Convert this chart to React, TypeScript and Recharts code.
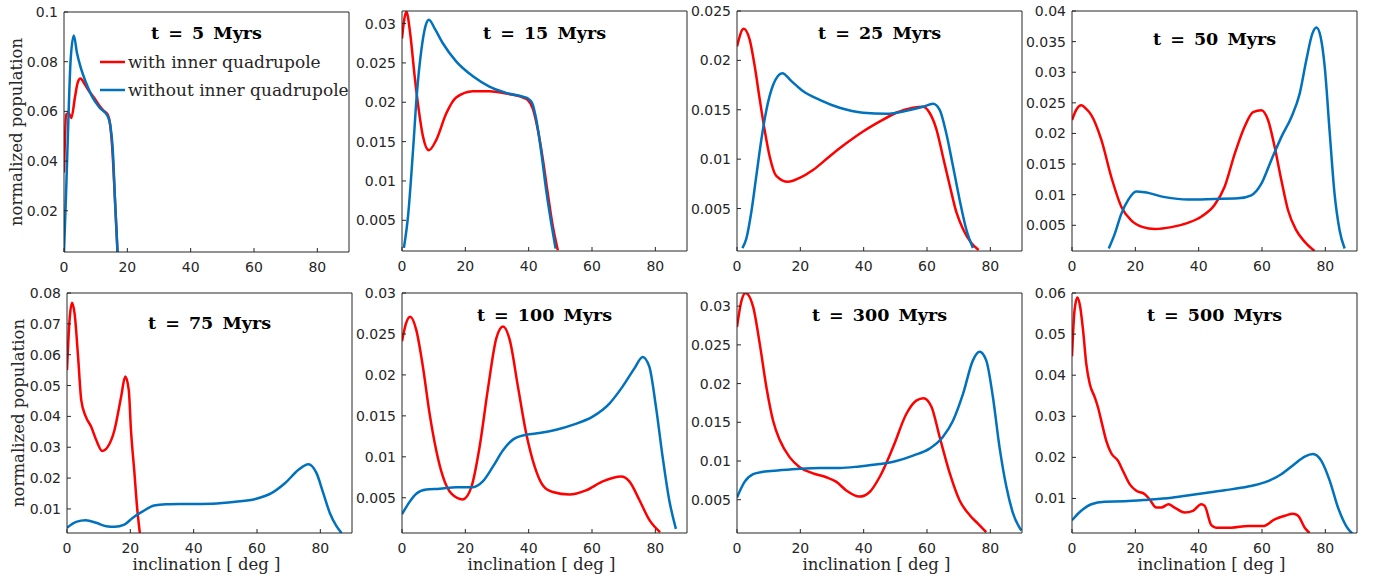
import { LineChart, Line, XAxis, YAxis, Legend } from 'recharts';

// inclination [deg], normalized population
const red5 = [[0, 0.0354], [0.7, 0.0587], [1.5, 0.0593], [2.3, 0.0573], [3.5, 0.066], [4.3, 0.0715], [5.2, 0.0732], [6.5, 0.071], [8, 0.068], [9.5, 0.0655], [11.2, 0.0623], [12.5, 0.0603], [13.8, 0.0587], [14.5, 0.0553], [15.2, 0.046], [16, 0.027], [16.9, 0.0034]];
const blue5 = [[0, 0.0034], [0.6, 0.025], [1.25, 0.0513], [2.1, 0.0808], [3.1, 0.0905], [4.1, 0.0835], [5.2, 0.078], [7, 0.0714], [9.1, 0.0654], [11.2, 0.0616], [13.8, 0.058], [14.6, 0.0546], [15.4, 0.0446], [16.1, 0.0244], [16.9, 0.0034]];

const red15 = [[0, 0.0281], [0.7, 0.0305], [1.4, 0.0315], [2.6, 0.0287], [4, 0.0233], [5.3, 0.019], [6.6, 0.0157], [8.5, 0.0139], [10.8, 0.0152], [14, 0.0186], [17.1, 0.0206], [22.4, 0.0214], [27.6, 0.0214], [32.9, 0.0211], [38.2, 0.0206], [39.7, 0.0203], [41.3, 0.0192], [42.9, 0.0165], [44.5, 0.0127], [46, 0.0085], [47.6, 0.0043], [49.2, 0.0012]];
const blue15 = [[0.6, 0.0015], [1.9, 0.0055], [3.5, 0.014], [4.7, 0.0211], [6.1, 0.0266], [7.5, 0.0298], [8.5, 0.0305], [10.3, 0.0294], [12.9, 0.0275], [17.1, 0.0252], [22.4, 0.0233], [27.6, 0.022], [32.9, 0.0212], [38.2, 0.0207], [39.7, 0.0205], [41.1, 0.0199], [42.4, 0.0178], [44, 0.0136], [45.5, 0.0089], [47.1, 0.0047], [48.5, 0.0014]];

const red25 = [[0, 0.0214], [2.1, 0.0232], [4, 0.0221], [5.6, 0.0194], [7.2, 0.016], [8.7, 0.013], [10.3, 0.0103], [12.4, 0.0083], [16.1, 0.0077], [19.8, 0.0081], [24, 0.0089], [29.3, 0.0103], [34.5, 0.0116], [39.8, 0.0128], [45, 0.0138], [50.3, 0.0147], [55.6, 0.0152], [58.7, 0.0153], [60.8, 0.0147], [63, 0.013], [65, 0.0103], [67.2, 0.0073], [69.3, 0.0046], [71.4, 0.0029], [74, 0.0015], [76.3, 0.0008]];
const blue25 = [[1.7, 0.001], [2.9, 0.0019], [4.5, 0.0046], [6.1, 0.0083], [7.7, 0.012], [9.3, 0.015], [11.4, 0.0175], [14.3, 0.0187], [17.2, 0.0179], [20.8, 0.0169], [26.1, 0.016], [32.4, 0.0152], [39.8, 0.0147], [47.2, 0.0146], [53.5, 0.0149], [58.7, 0.0153], [61.9, 0.0156], [64, 0.015], [66.1, 0.0126], [68.2, 0.0093], [70.3, 0.0059], [72.4, 0.0029], [74.5, 0.001]];

const red50 = [[0, 0.0222], [1.5, 0.024], [2.9, 0.0246], [4.5, 0.024], [6.1, 0.023], [9.3, 0.0189], [12.4, 0.0129], [15.6, 0.008], [18.7, 0.0058], [22.4, 0.0047], [26.1, 0.0044], [31.4, 0.0047], [36.6, 0.0054], [40.8, 0.0064], [45, 0.0083], [48.2, 0.0113], [51.4, 0.0167], [54.5, 0.0211], [57.2, 0.0235], [59.8, 0.0238], [61.9, 0.0222], [64, 0.0178], [66.1, 0.0124], [68.2, 0.0075], [70.8, 0.0042], [73.5, 0.0023], [76.6, 0.0008]];
const blue50 = [[11.6, 0.0012], [13.5, 0.0036], [15.6, 0.0069], [17.7, 0.0091], [20.3, 0.0105], [22.9, 0.0104], [29.3, 0.0096], [36.6, 0.0092], [45, 0.0093], [52.4, 0.0094], [56.6, 0.0099], [59.8, 0.0118], [62.9, 0.0156], [66.1, 0.0194], [69.3, 0.0227], [71.9, 0.0265], [74, 0.032], [75.9, 0.0363], [77.2, 0.0373], [78.5, 0.0358], [79.8, 0.0309], [81.4, 0.02], [82.9, 0.0102], [84.5, 0.0042], [86.1, 0.0012]];

const red75 = [[0, 0.055], [0.8, 0.0712], [1.6, 0.0768], [2.4, 0.0733], [3.5, 0.0593], [4.5, 0.0453], [5.9, 0.04], [7.6, 0.0367], [9.2, 0.0324], [11.1, 0.0288], [12.9, 0.0302], [15, 0.0356], [17.1, 0.0464], [18.4, 0.0529], [19.5, 0.0486], [20.2, 0.0356], [21.3, 0.0216], [22.1, 0.0109], [23, 0.0022]];
const blue75 = [[0, 0.0039], [2.9, 0.0058], [5.9, 0.0063], [9.2, 0.0055], [12.4, 0.0044], [15, 0.0042], [18.1, 0.0049], [20.7, 0.0071], [23.9, 0.0092], [27.5, 0.0111], [31.2, 0.0115], [37.5, 0.0116], [45.9, 0.0117], [53.2, 0.0123], [59.5, 0.0132], [64.7, 0.0152], [68.9, 0.0184], [73.1, 0.0227], [76.2, 0.0245], [78.8, 0.0216], [80.9, 0.0152], [83, 0.0087], [85.1, 0.0044], [86.7, 0.0022]];

const red100 = [[0, 0.0241], [1.2, 0.0262], [2.6, 0.0271], [4.5, 0.0255], [6.6, 0.021], [8.7, 0.0153], [10.8, 0.0108], [12.9, 0.0076], [15.6, 0.0055], [19.2, 0.0048], [21.9, 0.0063], [24.5, 0.0112], [27.1, 0.0182], [29.8, 0.0245], [31.9, 0.0259], [34, 0.0243], [36.6, 0.0186], [39.2, 0.0129], [41.9, 0.0088], [44.5, 0.0065], [47.6, 0.0057], [52.9, 0.0054], [58.1, 0.0059], [63.4, 0.007], [69.2, 0.0076], [71.8, 0.007], [75, 0.0047], [78.1, 0.0023], [81.5, 0.0008]];
const blue100 = [[0, 0.003], [2.4, 0.0045], [4.5, 0.0055], [7.7, 0.006], [11.9, 0.0061], [17.1, 0.0063], [22.4, 0.0063], [25.5, 0.007], [28.7, 0.0088], [31.9, 0.0108], [35, 0.0121], [39.2, 0.0127], [43.4, 0.0129], [48.7, 0.0133], [53.9, 0.0139], [60.2, 0.0149], [65.5, 0.0165], [69.7, 0.0186], [73.4, 0.0208], [76, 0.0222], [78.1, 0.021], [80.2, 0.0161], [82.3, 0.01], [84.4, 0.0047], [86.5, 0.0012]];

const red300 = [[0, 0.0273], [1.3, 0.0305], [2.7, 0.0317], [5.1, 0.0299], [7.2, 0.0251], [9.3, 0.0195], [11.4, 0.0152], [13.5, 0.0127], [16.6, 0.0105], [19.8, 0.0092], [24, 0.0084], [28.2, 0.0079], [31.4, 0.0073], [34.5, 0.0062], [38.7, 0.0054], [41.9, 0.006], [45, 0.0079], [49.3, 0.0118], [53.5, 0.0161], [56.6, 0.0178], [58.9, 0.0181], [61.4, 0.017], [64, 0.0131], [67.2, 0.0084], [70.3, 0.0049], [73.5, 0.003], [76.1, 0.0019], [78.7, 0.0008]];
const blue300 = [[0, 0.0053], [2.4, 0.0073], [5.1, 0.0083], [8.2, 0.0086], [13.5, 0.0088], [19.8, 0.009], [26.1, 0.0091], [32.4, 0.0091], [38.7, 0.0093], [45, 0.0096], [50.3, 0.01], [55.6, 0.0107], [60.8, 0.0116], [65, 0.0131], [68.2, 0.0152], [71.4, 0.0187], [74.5, 0.023], [76.6, 0.0241], [78.7, 0.023], [80.8, 0.0183], [82.9, 0.0118], [85.1, 0.0066], [87.2, 0.0032], [89.8, 0.001]];

const red500 = [[0, 0.0446], [0.8, 0.0558], [1.7, 0.0589], [2.5, 0.057], [3.5, 0.0509], [4.5, 0.0428], [5.6, 0.0379], [7.2, 0.0346], [8.2, 0.0322], [9.5, 0.0281], [10.8, 0.0241], [12.4, 0.021], [14.5, 0.0192], [16.1, 0.0167], [18.2, 0.0135], [20.3, 0.0119], [22.9, 0.0111], [24.5, 0.0098], [26.6, 0.0078], [28.2, 0.0078], [30.5, 0.0086], [32.4, 0.0078], [35.6, 0.0066], [38.2, 0.007], [40.8, 0.0086], [41.9, 0.0082], [44, 0.0035], [45.5, 0.0029], [50.3, 0.0029], [55.6, 0.0033], [60.3, 0.0033], [64, 0.0049], [67.2, 0.0058], [69.8, 0.0063], [71.4, 0.0058], [73.5, 0.0029], [75, 0.0016]];
const blue500 = [[0, 0.0047], [2.9, 0.007], [6.1, 0.0086], [10.3, 0.0092], [16.6, 0.0093], [24, 0.0097], [31.4, 0.0102], [39.8, 0.0111], [48.2, 0.012], [55.6, 0.0129], [60.8, 0.0139], [66.1, 0.0159], [70.3, 0.0184], [73.5, 0.0202], [76.1, 0.0208], [78.7, 0.0192], [81.4, 0.0143], [84, 0.0078], [86.6, 0.0033], [88.7, 0.0013]];

const titles = ['t = 5 Myrs', 't = 15 Myrs', 't = 25 Myrs', 't = 50 Myrs', 't = 75 Myrs', 't = 100 Myrs', 't = 300 Myrs', 't = 500 Myrs'];
const redSeries = [red5, red15, red25, red50, red75, red100, red300, red500];
const blueSeries = [blue5, blue15, blue25, blue50, blue75, blue100, blue300, blue500];
const xTicks = [0, 20, 40, 60, 80];
const yDomains = [[0.0034, 0.1], [0.0011, 0.0316], [0.0007, 0.025], [0.0008, 0.04], [0.0022, 0.08], [0.0007, 0.03], [0.0007, 0.0317], [0.0016, 0.06]];
const yTicks = [
  [0.02, 0.04, 0.06, 0.08, 0.1],
  [0.005, 0.01, 0.015, 0.02, 0.025, 0.03],
  [0.005, 0.01, 0.015, 0.02, 0.025],
  [0.005, 0.01, 0.015, 0.02, 0.025, 0.03, 0.035, 0.04],
  [0.01, 0.02, 0.03, 0.04, 0.05, 0.06, 0.07, 0.08],
  [0.005, 0.01, 0.015, 0.02, 0.025, 0.03],
  [0.005, 0.01, 0.015, 0.02, 0.025, 0.03],
  [0.01, 0.02, 0.03, 0.04, 0.05, 0.06],
];
const seriesNames = ['with inner quadrupole', 'without inner quadrupole'];

// page position of each plot box (left, top) and title offset below box top
const plotPos = [[64, 12], [402, 11], [737, 11], [1072, 11], [67, 293], [402, 293], [737, 293], [1072, 293]];
const titleOffset = [15, 16, 16, 22, 24, 16, 16, 16];

const SERIF = "'DejaVu Serif', serif";
const SANS = "'DejaVu Sans', sans-serif";
const AXIS = '#262626';
const RED = '#FF0000';
const BLUE = '#0072BD';

const toPts = (s: number[][]) => s.map(([x, y]) => ({ x, y }));

const LegendBox = ({ payload }: any) => (
  <div style={{ fontFamily: SERIF, fontSize: 17, color: AXIS }}>
    {(payload || []).map((p: any) => (
      <div key={p.value} style={{ display: 'flex', alignItems: 'center', height: 28, whiteSpace: 'nowrap' }}>
        <svg width={28} height={6}>
          <line x1={0} x2={25} y1={3} y2={3} stroke={p.color} strokeWidth={2.5} />
        </svg>
        <span>{p.value}</span>
      </div>
    ))}
  </div>
);

const Panel = ({ i }: { i: number }) => {
  const [left, top] = plotPos[i];
  const bottomRow = i >= 4;
  const leftCol = i % 4 === 0;
  return (
    <div style={{ position: 'absolute', left: left - 60, top: top - 10 }}>
      <LineChart width={355} height={300} margin={{ top: 9, right: 9, bottom: 0, left: 0 }}>
        <XAxis
          xAxisId="b"
          dataKey="x"
          type="number"
          domain={[0, 90]}
          ticks={xTicks}
          interval={0}
          allowDataOverflow
          height={50}
          stroke={AXIS}
          tickSize={-4}
          tickMargin={14}
          tick={{ fill: AXIS, fontSize: 14, fontFamily: SANS }}
          label={bottomRow ? { value: 'inclination [ deg ]', position: 'insideBottom', offset: 13, dx: -3, fill: AXIS, fontSize: 16.5, fontFamily: SERIF } : undefined}
        />
        <XAxis
          xAxisId="t"
          orientation="top"
          type="number"
          domain={[0, 90]}
          ticks={xTicks}
          interval={0}
          allowDataOverflow
          height={1}
          stroke={AXIS}
          tickSize={-4}
          tick={false}
          label={{ value: titles[i], position: 'bottom', offset: titleOffset[i], fill: '#000', fontSize: 17.5, fontWeight: 'bold', fontFamily: SERIF, style: { wordSpacing: '3px' } }}
        />
        <YAxis
          yAxisId="l"
          type="number"
          domain={yDomains[i]}
          ticks={yTicks[i]}
          interval={0}
          allowDataOverflow
          width={60}
          stroke={AXIS}
          tickSize={-4}
          tickMargin={10}
          tick={{ fill: AXIS, fontSize: 14, fontFamily: SANS }}
          label={leftCol ? { value: 'normalized population', angle: -90, position: 'insideLeft', offset: i === 0 ? 12 : 11, style: { textAnchor: 'middle' }, fill: AXIS, fontSize: 16.5, fontFamily: SERIF } : undefined}
        />
        <YAxis
          yAxisId="r"
          orientation="right"
          type="number"
          domain={yDomains[i]}
          ticks={yTicks[i]}
          interval={0}
          allowDataOverflow
          width={1}
          stroke={AXIS}
          tickSize={-4}
          tick={false}
        />
        {i === 0 && (
          <Legend
            layout="vertical"
            align="center"
            verticalAlign="middle"
            content={<LegendBox />}
            wrapperStyle={{ left: 96, top: 46, width: 'auto' }}
          />
        )}
        <Line
          xAxisId="b"
          yAxisId="l"
          data={toPts(redSeries[i])}
          dataKey="y"
          name={seriesNames[0]}
          type="monotone"
          stroke={RED}
          strokeWidth={2.5}
          dot={false}
          isAnimationActive={false}
        />
        <Line
          xAxisId="b"
          yAxisId="l"
          data={toPts(blueSeries[i])}
          dataKey="y"
          name={seriesNames[1]}
          type="monotone"
          stroke={BLUE}
          strokeWidth={2.5}
          dot={false}
          isAnimationActive={false}
        />
      </LineChart>
    </div>
  );
};

export default function App() {
  return (
    <div style={{ position: 'absolute', left: 0, top: 0, width: 1375, height: 581, background: '#fff' }}>
      {titles.map((t, i) => (
        <Panel key={t} i={i} />
      ))}
    </div>
  );
}
